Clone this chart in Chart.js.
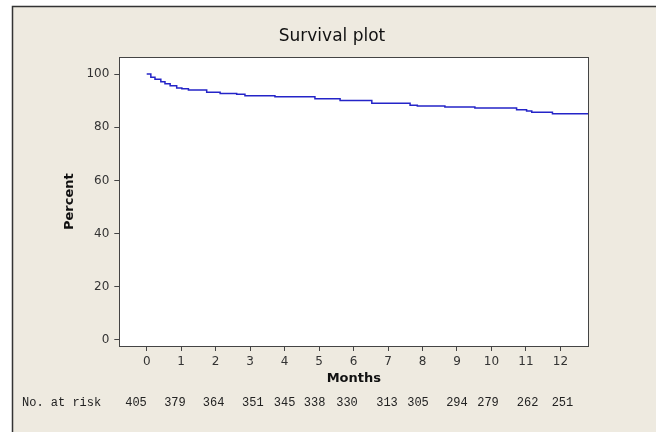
<!DOCTYPE html>
<html><head><meta charset="utf-8">
<script src="https://cdn.jsdelivr.net/npm/chart.js@4.4.1/dist/chart.umd.min.js"></script>
<style>html,body{margin:0;padding:0;background:#fff;}</style>
</head><body>
<canvas id="c" width="656" height="432"></canvas>
<script>
// ---- data ----
const eventMonths = [0, 0.12, 0.24, 0.41, 0.53, 0.68, 0.87, 1.02, 1.21, 1.74, 2.13, 2.61, 2.85, 3.72, 4.88, 5.61, 6.53, 7.64, 7.85, 8.65, 9.52, 10.73, 11.02, 11.17, 11.77, 12.81];
const survivalPct = [100, 98.8, 98.0, 97.1, 96.4, 95.6, 94.8, 94.5, 94.0, 93.2, 92.7, 92.4, 91.8, 91.5, 90.7, 90.1, 89.0, 88.3, 88.0, 87.6, 87.2, 86.6, 86.1, 85.6, 85.1, 85.1];
const xTicks = [0,1,2,3,4,5,6,7,8,9,10,11,12];
const yTicks = [0,20,40,60,80,100];
const chartTitle = 'Survival plot';
const atRiskLabel = 'No. at risk';
const atRiskCounts = [405, 379, 364, 351, 345, 338, 330, 313, 305, 294, 279, 262, 251];
const atRiskMonths = [-0.31, 0.82, 1.94, 3.08, 4.0, 4.87, 5.81, 6.97, 7.87, 9.0, 9.9, 11.05, 12.06];

const BG = '#eeeae0';
const AXIS = '#444';

const decor = {
  id: 'decor',
  beforeDraw(chart) {
    const ctx = chart.ctx, a = chart.chartArea;
    ctx.save();
    ctx.fillStyle = '#fff';
    ctx.fillRect(0, 0, chart.width, chart.height);
    ctx.fillStyle = BG;
    ctx.fillRect(12, 6, chart.width - 12, chart.height - 6);
    ctx.strokeStyle = '#333';
    ctx.lineWidth = 1.5;
    ctx.beginPath();
    ctx.moveTo(12.5, chart.height);
    ctx.lineTo(12.5, 6.5);
    ctx.lineTo(chart.width, 6.5);
    ctx.stroke();
    ctx.fillStyle = '#fff';
    ctx.fillRect(a.left, a.top, a.right - a.left, a.bottom - a.top);
    ctx.restore();
  },
  afterDraw(chart) {
    const ctx = chart.ctx, a = chart.chartArea;
    ctx.save();
    ctx.strokeStyle = AXIS;
    ctx.lineWidth = 1;
    ctx.strokeRect(Math.round(a.left) + 0.5, Math.round(a.top) + 0.5,
                   Math.round(a.right - a.left), Math.round(a.bottom - a.top));
    // title
    ctx.fillStyle = '#111';
    ctx.font = '17px "DejaVu Sans", sans-serif';
    ctx.textAlign = 'center';
    ctx.textBaseline = 'middle';
    ctx.fillText(chartTitle, 332, 37);
    // at-risk row
    ctx.fillStyle = '#222';
    ctx.font = '12px "Liberation Mono", monospace';
    ctx.textBaseline = 'middle';
    ctx.textAlign = 'left';
    ctx.fillText(atRiskLabel, 22, 402.5);
    ctx.textAlign = 'center';
    const xs = chart.scales.x;
    atRiskCounts.forEach((n, i) => {
      ctx.fillText(String(n), xs.getPixelForValue(atRiskMonths[i]), 402.5);
    });
    ctx.restore();
  }
};

new Chart(document.getElementById('c'), {
  type: 'line',
  data: {
    datasets: [{
      data: eventMonths.map((m, i) => ({x: m, y: survivalPct[i]})),
      stepped: 'before',
      borderColor: '#2424c8',
      borderWidth: 1.5,
      pointRadius: 0,
      fill: false
    }]
  },
  options: {
    responsive: false,
    animation: false,
    devicePixelRatio: 1,
    layout: { padding: { left: 0, right: 67.7, top: 57.3, bottom: 0 } },
    plugins: {
      legend: { display: false },
      tooltip: { enabled: false },
      title: { display: false }
    },
    scales: {
      x: {
        type: 'linear',
        min: -0.795,
        max: 12.81,
        afterBuildTicks(s) { s.ticks = xTicks.map(v => ({value: v})); },
        afterFit(s) { s.height = 86; },
        grid: { display: true, drawOnChartArea: false, drawTicks: true, tickLength: 5, color: AXIS, tickColor: AXIS },
        border: { display: false },
        ticks: { color: '#333', font: { family: 'DejaVu Sans', size: 12 }, padding: 4, maxRotation: 0, autoSkip: false },
        title: { display: true, text: 'Months', color: '#111', font: { family: 'DejaVu Sans', size: 13, weight: 'bold', lineHeight: 1.2 }, padding: { top: 0, bottom: 45.2 } }
      },
      y: {
        type: 'linear',
        min: -2.26,
        max: 106.3,
        afterBuildTicks(s) { s.ticks = yTicks.map(v => ({value: v})); },
        afterFit(s) { s.width = 119.3; },
        grid: { display: true, drawOnChartArea: false, drawTicks: true, tickLength: 5, color: AXIS, tickColor: AXIS },
        border: { display: false },
        ticks: { color: '#333', font: { family: 'DejaVu Sans', size: 12 }, padding: 5 },
        title: { display: true, text: 'Percent', color: '#111', font: { family: 'DejaVu Sans', size: 13, weight: 'bold', lineHeight: 1.2 }, padding: { top: 62.2, bottom: 0 } }
      }
    }
  },
  plugins: [decor]
});
</script>
</body></html>
